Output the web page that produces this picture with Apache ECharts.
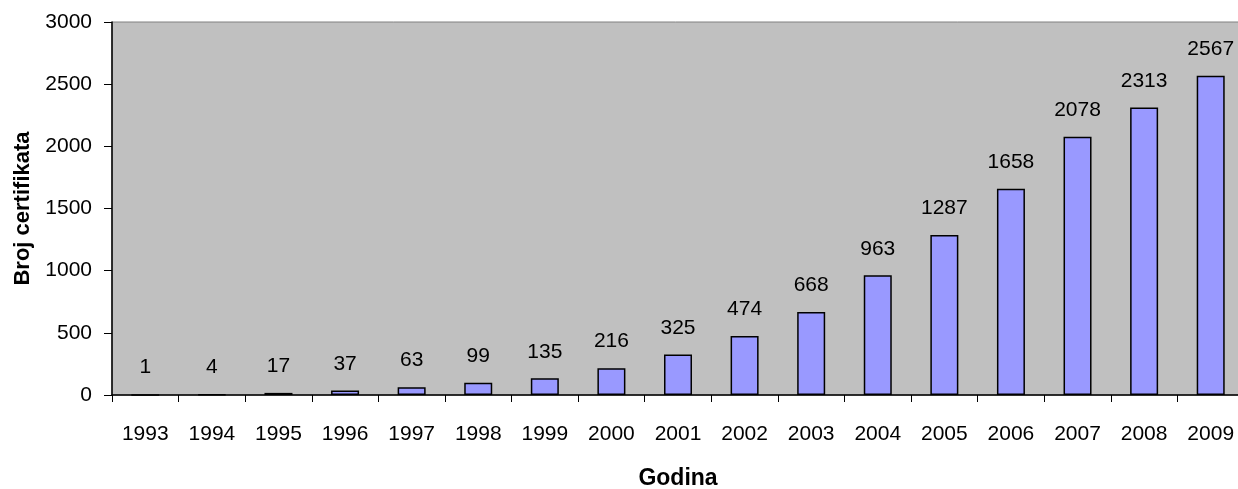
<!DOCTYPE html>
<html>
<head>
<meta charset="utf-8">
<title>Broj certifikata</title>
<script src="https://cdn.jsdelivr.net/npm/echarts@6/dist/echarts.min.js"></script>
<style>
  html, body { margin: 0; padding: 0; background: #fff; }
  #chart { width: 1238px; height: 489px; }
</style>
</head>
<body>
<div id="chart"></div>
<script>
// podaci
var godine = ['1993', '1994', '1995', '1996', '1997', '1998', '1999', '2000', '2001',
    '2002', '2003', '2004', '2005', '2006', '2007', '2008', '2009'];
var certifikati = [1, 4, 17, 37, 63, 99, 135, 216, 325, 474, 668, 963, 1287, 1658, 2078, 2313, 2567];

var font = 'Liberation Sans, Arial, sans-serif';

var chart = echarts.init(document.getElementById('chart'));

var option = {
    animation: false,
    grid: {
        left: 112,
        top: 22,
        width: 1132,
        height: 373,
        outerBoundsMode: 'none',
        containLabel: false,
        show: true,
        backgroundColor: '#C0C0C0',
        borderColor: '#808080',
        borderWidth: 1
    },
    xAxis: {
        type: 'category',
        data: godine,
        name: 'Godina',
        nameLocation: 'middle',
        nameGap: 72,
        nameTextStyle: { fontFamily: font, fontSize: 23, fontWeight: 'bold', color: '#000' },
        axisLine: { lineStyle: { color: '#000', width: 1.5 } },
        axisTick: { show: true, length: 7, lineStyle: { color: '#000' } },
        axisLabel: { fontFamily: font, fontSize: 21, color: '#000', margin: 29 },
        splitLine: { show: false }
    },
    yAxis: {
        type: 'value',
        min: 0,
        max: 3000,
        interval: 500,
        name: 'Broj certifikata',
        nameLocation: 'middle',
        nameGap: 73,
        nameTextStyle: { fontFamily: font, fontSize: 22, fontWeight: 'bold', color: '#000' },
        axisLine: { show: true, lineStyle: { color: '#000', width: 1.5 } },
        axisTick: { show: true, length: 8, lineStyle: { color: '#000' } },
        axisLabel: {
            fontFamily: font, fontSize: 21, color: '#000', margin: 20,
            formatter: function (v) { return String(v); }
        },
        splitLine: { show: false }
    },
    series: [{
        type: 'bar',
        data: certifikati,
        barWidth: 28,
        itemStyle: { color: '#9999FF', borderColor: '#000', borderWidth: 1.5 },
        label: {
            show: true,
            position: 'top',
            distance: 16,
            fontFamily: font,
            fontSize: 21,
            color: '#000'
        }
    }]
};

chart.setOption(option);
</script>
</body>
</html>
